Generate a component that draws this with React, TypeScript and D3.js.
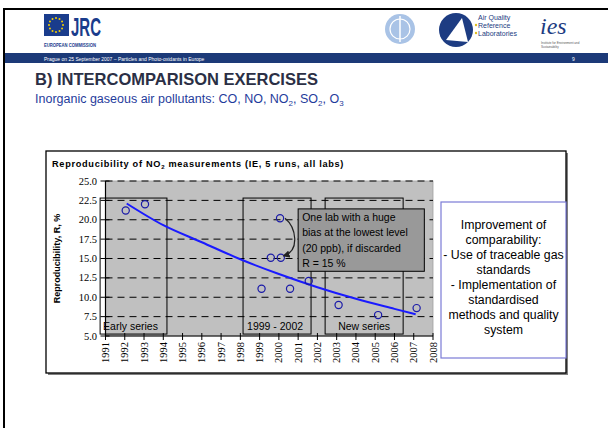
import * as d3 from "d3";

const yearTicks = [1991, 1992, 1993, 1994, 1995, 1996, 1997, 1998, 1999, 2000, 2001, 2002, 2003, 2004, 2005, 2006, 2007, 2008];
const valueTicks = [5, 7.5, 10, 12.5, 15, 17.5, 20, 22.5, 25];

// measured reproducibility, one circle per exercise
const pointYears = [1992.05, 1993.05, 1999.1, 1999.58, 2000.06, 2000.1, 2000.58, 2001.55, 2003.1, 2005.15, 2007.15];
const pointValues = [21.2, 22.0, 11.1, 15.1, 20.2, 15.1, 11.1, 12.1, 9.0, 7.7, 8.6];

// trend curve
const trendYears = [1992.1, 1994, 1996, 1998, 2000, 2002, 2004, 2006, 2007.1];
const trendValues = [22.1, 19.3, 17.1, 14.9, 13.0, 11.3, 9.8, 8.5, 7.8];

const seriesLabels = ["Early series", "1999 - 2002", "New series"];
const seriesStart = [1990.72, 1998.14, 2002.4];
const seriesEnd = [1994.19, 2001.67, 2006.45];

const noteLines = ["One lab  with a huge", "bias at the lowest level", "(20 ppb), if discarded", "R = 15 %"];
const boxLines = [
  "Improvement of",
  "comparability:",
  "- Use of traceable gas",
  "standards",
  "- Implementation of",
  "standardised",
  "methods and quality",
  "system",
];

const SANS = "'Liberation Sans', Arial, sans-serif";
const SERIF = "'Liberation Serif', 'Times New Roman', serif";
const NARROW = "'Liberation Sans Narrow', 'Liberation Sans', Arial, sans-serif";

function Stars() {
  const a = d3.range(12).map((i) => (i / 12) * Math.PI * 2);
  return (
    <g>
      {a.map((t, i) => (
        <circle key={i} cx={56 + Math.cos(t) * 7} cy={25 + Math.sin(t) * 7} r={1} fill="#f4d000" />
      ))}
    </g>
  );
}

export default function App() {
  const x = d3.scaleLinear().domain([1991, 2008]).range([105.5, 433]);
  const y = d3.scaleLinear().domain([5, 25]).range([336, 181]);

  const trend = d3
    .line<number>()
    .x((d, i) => x(trendYears[i]))
    .y((d) => y(d))
    .curve(d3.curveMonotoneX)(trendValues);

  const boxTop = y(22.8);
  const boxBottom = y(5.25);

  return (
    <svg width={608} height={428} style={{ position: "absolute", left: 0, top: 0, background: "#fff" }}>
      {/* slide frame */}
      <line x1={3} y1={9} x2={608} y2={9} stroke="#000" strokeWidth={2} />
      <line x1={4} y1={9} x2={4} y2={428} stroke="#000" strokeWidth={2} />

      {/* header logos */}
      <rect x={44} y={14} width={25} height={22} fill="#1a3c8c" />
      <Stars />
      <text x={71} y={36} fontFamily={SANS} fontWeight="bold" fontSize={25} fill="#1a3c8c" textLength={30} lengthAdjust="spacingAndGlyphs">
        JRC
      </text>
      <text x={44} y={47} fontFamily={SANS} fontWeight="bold" fontSize={5.5} fill="#1a3c8c" textLength={52} lengthAdjust="spacingAndGlyphs">
        EUROPEAN COMMISSION
      </text>

      <circle cx={400} cy={29} r={15} fill="#a9c3e6" />
      <circle cx={400} cy={29} r={10} fill="none" stroke="#fff" strokeWidth={1.2} />
      <line x1={400} y1={16} x2={400} y2={42} stroke="#fff" strokeWidth={1.5} />

      <rect x={430} y={10} width={105} height={48} fill="#fff" />
      <circle cx={456} cy={30} r={17} fill="#1d3c82" />
      <path d="M446,40 L462,18 L468,42 Z" fill="#fff" />
      <text x={478} y={20} fontFamily={SANS} fontSize={7} fill="#1d3c82">Air Quality</text>
      <text x={478} y={28} fontFamily={SANS} fontSize={7} fill="#1d3c82">Reference</text>
      <text x={478} y={36} fontFamily={SANS} fontSize={7} fill="#1d3c82">Laboratories</text>
      <circle cx={476} cy={25} r={1.2} fill="#e0c020" />
      <circle cx={476} cy={33} r={1.2} fill="#e0c020" />

      <text x={540} y={34} fontFamily={SERIF} fontStyle="italic" fontSize={24} fill="#1d3c82">ies</text>
      <text x={541} y={44} fontFamily={SANS} fontSize={3} fill="#555">Institute for Environment and</text>
      <text x={541} y={48} fontFamily={SANS} fontSize={3} fill="#555">Sustainability</text>

      {/* blue band */}
      <rect x={5} y={53} width={603} height={10} fill="#1c3a78" />
      <text x={44} y={60.5} fontFamily={SANS} fontSize={5} fill="#fff">
        Prague on 25 September 2007 – Particles and Photo-oxidants in Europe
      </text>
      <text x={572} y={60.5} fontFamily={SANS} fontSize={5} fill="#fff">9</text>

      {/* titles */}
      <text x={35} y={85} fontFamily={SANS} fontWeight="bold" fontSize={16.5} fill="#2b2f45">
        B) INTERCOMPARISON EXERCISES
      </text>
      <text x={35} y={103} fontFamily={NARROW} fontSize={12.5} fill="#1f3c9c">
        Inorganic gaseous air pollutants: CO, NO, NO
        <tspan fontSize={8} dy={3}>2</tspan>
        <tspan dy={-3}>, SO</tspan>
        <tspan fontSize={8} dy={3}>2</tspan>
        <tspan dy={-3}>, O</tspan>
        <tspan fontSize={8} dy={3}>3</tspan>
      </text>

      {/* chart frame with shadow */}
      <rect x={48} y={153} width={520} height={222} fill="#808080" />
      <rect x={46} y={151} width={520} height={222} fill="#fff" stroke="#000" strokeWidth={1.3} />
      <text x={52} y={167} fontFamily={SANS} fontWeight="bold" fontSize={9.2} letterSpacing={0.7} fill="#000">
        Reproducibility of NO
        <tspan fontSize={6} dy={2}>2</tspan>
        <tspan dy={-2}> measurements (IE, 5 runs, all labs)</tspan>
      </text>

      {/* plot area */}
      <rect x={x(1991)} y={y(25)} width={x(2008) - x(1991)} height={y(5) - y(25)} fill="#c0c0c0" stroke="#a0a0a0" strokeWidth={0.8} />
      {valueTicks.slice(1).map((v) => (
        <line key={v} x1={x(1991)} x2={x(2008)} y1={y(v)} y2={y(v)} stroke="#000" strokeWidth={1} strokeDasharray="7,5" />
      ))}
      <line x1={x(1991)} x2={x(1991)} y1={y(25)} y2={y(5)} stroke="#000" strokeWidth={1.2} />
      <line x1={x(1991)} x2={x(2008)} y1={y(5)} y2={y(5)} stroke="#000" strokeWidth={1.2} />
      {valueTicks.map((v) => (
        <g key={v}>
          <line x1={x(1991) - 5} x2={x(1991) + 4} y1={y(v)} y2={y(v)} stroke="#000" strokeWidth={1} />
          <text x={97} y={y(v) + 3.5} textAnchor="end" fontFamily={SERIF} fontSize={10.5} fill="#000">
            {v.toFixed(1)}
          </text>
        </g>
      ))}
      {yearTicks.map((t) => (
        <g key={t}>
          <line x1={x(t)} x2={x(t)} y1={y(5) - 3} y2={y(5) + 4} stroke="#000" strokeWidth={1} />
          <text
            transform={`translate(${x(t) + 3.5},${y(5) + 6}) rotate(-90)`}
            textAnchor="end"
            fontFamily={SERIF}
            fontSize={10.5}
            fill="#000"
          >
            {t}
          </text>
        </g>
      ))}
      <text transform={`translate(60,${(y(25) + y(5)) / 2}) rotate(-90)`} textAnchor="middle" fontFamily={SANS} fontWeight="bold" fontSize={9} fill="#000">
        Reproducibility, R, %
      </text>

      {/* series boxes */}
      {seriesLabels.map((s, i) => (
        <g key={s}>
          <rect x={x(seriesStart[i])} y={boxTop} width={x(seriesEnd[i]) - x(seriesStart[i])} height={boxBottom - boxTop} fill="none" stroke="#000" strokeWidth={1} />
          <text
            x={i === 2 ? (x(seriesStart[i]) + x(seriesEnd[i])) / 2 : x(seriesStart[i]) + (i === 0 ? 3 : 4)}
            y={boxBottom - 4}
            textAnchor={i === 2 ? "middle" : "start"}
            fontFamily={SANS}
            fontSize={10.5}
            fill="#000"
          >
            {s}
          </text>
        </g>
      ))}

      {/* trend */}
      <path d={trend ?? ""} fill="none" stroke="#1a1aff" strokeWidth={2} />

      {/* points */}
      {pointYears.map((py, i) => (
        <circle key={i} cx={x(py)} cy={y(pointValues[i])} r={3.6} fill="none" stroke="#1a1aa8" strokeWidth={1.2} />
      ))}

      {/* annotation */}
      <defs>
        <marker id="arr" viewBox="0 0 10 10" refX={8} refY={5} markerWidth={6} markerHeight={6} orient="auto">
          <path d="M0,0 L10,5 L0,10 Z" fill="#222" />
        </marker>
      </defs>
      <path
        d={`M${x(2000.06) + 5},${y(20.2)} C${x(2000.9)},${y(19)} ${x(2001.1)},${y(16)} ${x(2000.1) + 3},${y(15.1) - 2}`}
        fill="none"
        stroke="#222"
        strokeWidth={1.2}
        markerEnd="url(#arr)"
      />
      <rect x={x(2001.0)} y={y(21.4)} width={x(2007.55) - x(2001.0)} height={y(13.35) - y(21.4)} fill="#999999" stroke="#000" strokeWidth={1} />
      {noteLines.map((l, i) => (
        <text key={i} x={x(2001.0) + 4} y={y(21.4) + 12 + i * 15.3} fontFamily={SANS} fontSize={10.5} fill="#000">
          {l}
        </text>
      ))}

      {/* conclusions box */}
      <rect x={441} y={202} width={125} height={156} fill="#fff" stroke="#7b7bd6" strokeWidth={1.2} />
      {boxLines.map((l, i) => (
        <text key={i} x={503.5} y={228.5 + i * 15} textAnchor="middle" fontFamily={SANS} fontSize={12.3} fill="#000">
          {l}
        </text>
      ))}
    </svg>
  );
}
